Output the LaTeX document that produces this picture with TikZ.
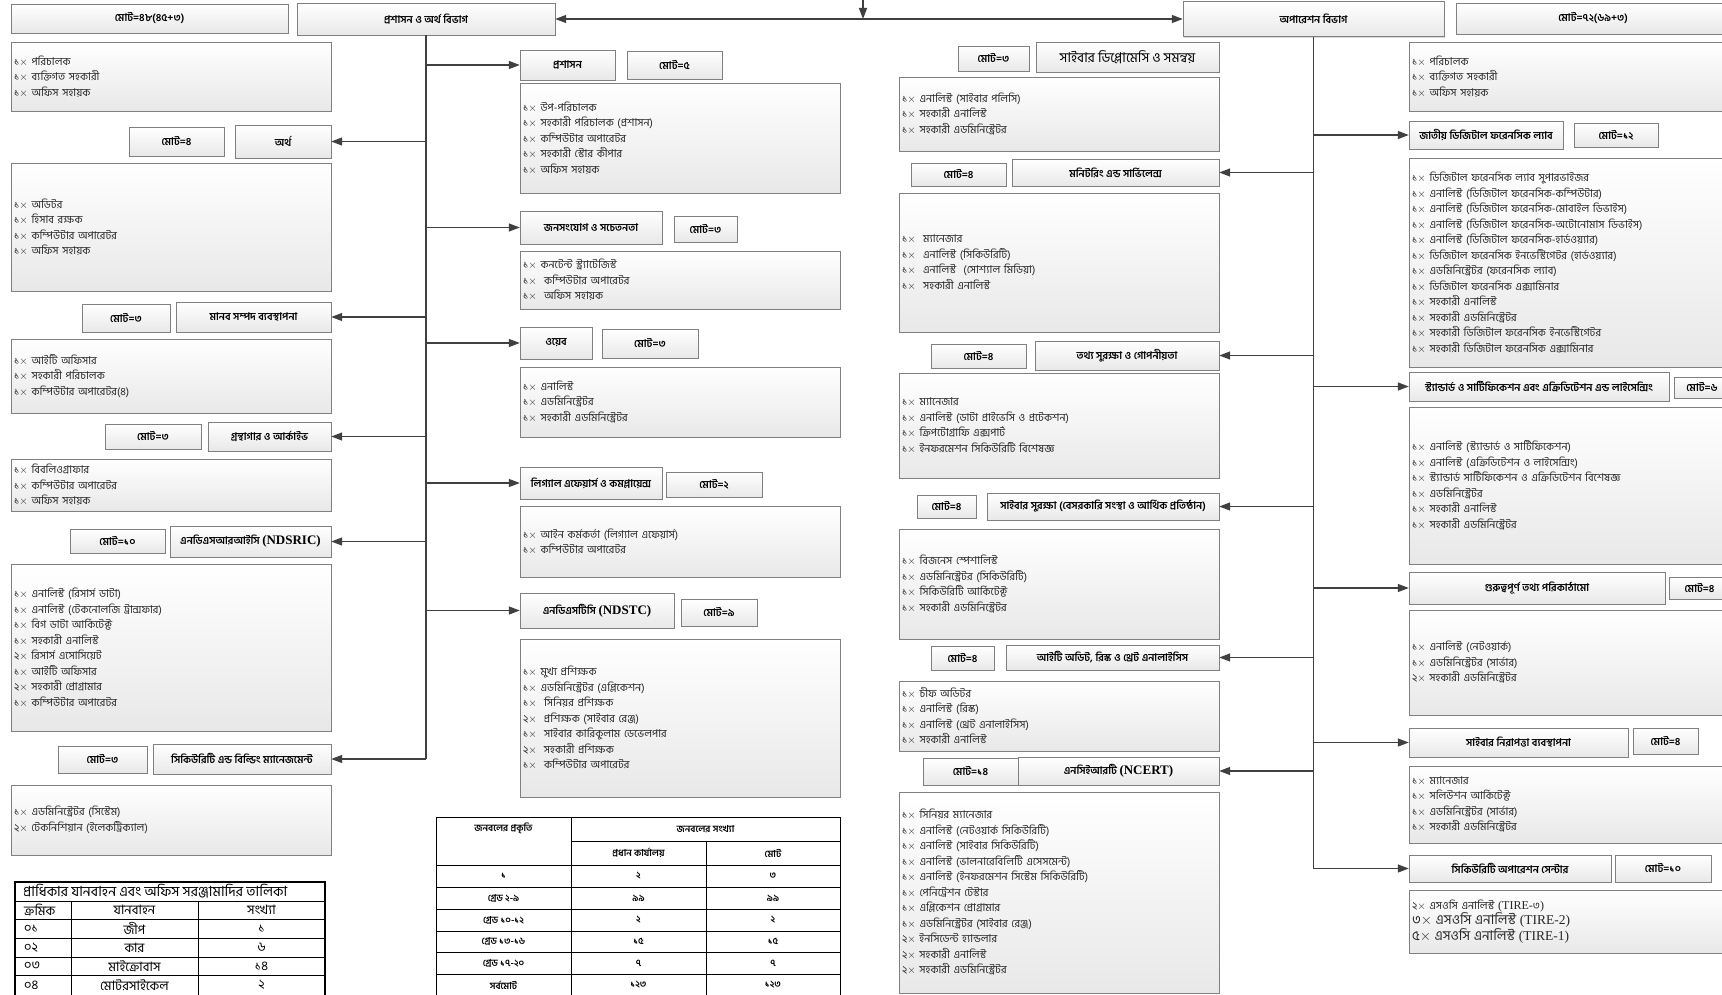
\documentclass[tikz,border=0pt]{standalone}
\usepackage{fontspec}
\setmainfont{Hind Siliguri}[Script=Bengali]
\newfontfamily\lat{Liberation Serif}
\usetikzlibrary{arrows.meta,shadows}

\newcommand{\tms}{$\times$ }

\tikzset{
  unitbox/.style={draw=black!50, top color=white, bottom color=black!9,
    drop shadow={opacity=0.3, shadow xshift=1.2pt, shadow yshift=-1.2pt},
    font=\fontsize{10.5}{12}\selectfont\bfseries, inner sep=1pt},
  staffbox/.style={unitbox, font=\fontsize{10.8}{15.5}\selectfont, text=black!85,
    align=left, text width=314pt, inner xsep=3pt, inner ysep=1pt},
  arr/.style={draw=black!75, line width=1.3pt, -{Triangle[length=11pt,width=8pt]}},
  trunk/.style={draw=black!75, line width=1.3pt},
  tbl/.style={line width=0.9pt},
  cell/.style={inner sep=0pt, font=\fontsize{9.5}{11}\selectfont\bfseries},
  vcell/.style={inner sep=0pt, font=\fontsize{13}{14}\selectfont},
}

\begin{document}
\begin{tikzpicture}[x=1pt,y=-1pt]
  \useasboundingbox (0,0) rectangle (1722,995);

  % heads
  \node[unitbox, minimum width=277pt, minimum height=29pt] (admtot) at (149.5,18.5) {মোট=৪৮(৪৫+৩)};
  \node[unitbox, minimum width=258pt, minimum height=32pt] (admin) at (426,19) {প্রশাসন ও অর্থ বিভাগ};
  \node[unitbox, minimum width=261pt, minimum height=35pt] (ops) at (1313.5,19) {অপারেশন বিভাগ};
  \node[unitbox, minimum width=274pt, minimum height=31pt] (opstot) at (1593,18.5) {মোট=৭২(৬৯+৩)};
  \coordinate (top) at (863,0);
  \coordinate (hub) at (top |- admin.east);

  % left column
  \node[staffbox, minimum height=69pt] (dirlist) at (171,76.5) {১\tms পরিচালক\\১\tms ব্যক্তিগত সহকারী\\১\tms অফিস সহায়ক};
  \node[unitbox, minimum width=96pt, minimum height=33pt] (fin) at (283,141.5) {অর্থ};
  \node[unitbox, minimum width=95pt, minimum height=29pt] (fintot) at (176.5,141.5) {মোট=৪};
  \node[staffbox, minimum height=128pt] (finlist) at (171,227) {১\tms অডিটর\\১\tms হিসাব রক্ষক\\১\tms কম্পিউটার অপারেটর\\১\tms অফিস সহায়ক};
  \node[unitbox, minimum width=155pt, minimum height=30pt] (hr) at (253.5,317) {মানব সম্পদ ব্যবস্থাপনা};
  \node[unitbox, minimum width=88pt, minimum height=28pt] (hrtot) at (126,318) {মোট=৩};
  \node[staffbox, minimum height=74pt] (hrlist) at (171,376) {১\tms আইটি অফিসার\\১\tms সহকারী পরিচালক\\১\tms কম্পিউটার অপারেটর(৪)};
  \node[unitbox, minimum width=123pt, minimum height=29pt] (lib) at (269.5,436.5) {গ্রন্থাগার ও আর্কাইভ};
  \node[unitbox, minimum width=96pt, minimum height=25pt] (libtot) at (153,436.5) {মোট=৩};
  \node[staffbox, minimum height=52pt] (liblist) at (171,485) {১\tms বিবলিওগ্রাফার\\১\tms কম্পিউটার অপারেটর\\১\tms অফিস সহায়ক};
  \node[unitbox, minimum width=161pt, minimum height=31pt] (ndsric) at (250.5,541.5) {এনডিএসআরআইসি {\lat\fontsize{13}{14}\selectfont (NDSRIC)}};
  \node[unitbox, minimum width=95pt, minimum height=24pt] (ndsrictot) at (117.5,541) {মোট=১০};
  \node[staffbox, minimum height=167pt] (ndsriclist) at (171,647.5) {১\tms এনালিস্ট (রিসার্স ডাটা)\\১\tms এনালিস্ট (টেকনোলজি ট্রান্সফার)\\১\tms বিগ ডাটা আর্কিটেক্ট\\১\tms সহকারী এনালিস্ট\\২\tms রিসার্স এসোসিয়েট\\১\tms আইটি অফিসার\\২\tms সহকারী প্রোগ্রামার\\১\tms কম্পিউটার অপারেটর};
  \node[unitbox, minimum width=178pt, minimum height=30pt] (sec) at (242,759) {সিকিউরিটি এন্ড বিল্ডিং ম্যানেজমেন্ট};
  \node[unitbox, minimum width=89pt, minimum height=27pt] (sectot) at (102.5,759.5) {মোট=৩};
  \node[staffbox, minimum height=70pt] (seclist) at (171,820) {১\tms এডমিনিস্ট্রেটর (সিস্টেম)\\২\tms টেকনিশিয়ান (ইলেকট্রিক্যাল)};

  % second column
  \node[unitbox, minimum width=95pt, minimum height=30pt] (prosh) at (567.5,65) {প্রশাসন};
  \node[unitbox, minimum width=95pt, minimum height=28pt] (proshtot) at (674.5,65) {মোট=৫};
  \node[staffbox, minimum height=110pt] (proshlist) at (680,138) {১\tms উপ-পরিচালক\\১\tms সহকারী পরিচালক (প্রশাসন)\\১\tms কম্পিউটার অপারেটর\\১\tms সহকারী স্টোর কীপার\\১\tms অফিস সহায়ক};
  \node[unitbox, minimum width=142pt, minimum height=33pt] (pr) at (591,227.5) {জনসংযোগ ও সচেতনতা};
  \node[unitbox, minimum width=63pt, minimum height=26pt] (prtot) at (705.5,229) {মোট=৩};
  \node[staffbox, minimum height=58pt] (prlist) at (680,280) {১\tms কনটেন্ট স্ট্র্যাটেজিস্ট\\১\tms\ কম্পিউটার অপারেটর\\১\tms\ অফিস সহায়ক};
  \node[unitbox, minimum width=72pt, minimum height=32pt] (web) at (556,343) {ওয়েব};
  \node[unitbox, minimum width=96pt, minimum height=29pt] (webtot) at (650,343.5) {মোট=৩};
  \node[staffbox, minimum height=70pt] (weblist) at (680,402) {১\tms এনালিস্ট\\১\tms এডমিনিস্ট্রেটর\\১\tms সহকারী এডমিনিস্ট্রেটর};
  \node[unitbox, minimum width=142pt, minimum height=32pt] (legal) at (591,483) {লিগ্যাল এফেয়ার্স ও কমপ্লায়েন্স};
  \node[unitbox, minimum width=96pt, minimum height=25pt] (legaltot) at (714,484.5) {মোট=২};
  \node[staffbox, minimum height=71pt] (legallist) at (680,541.5) {১\tms আইন কর্মকর্তা (লিগ্যাল এফেয়ার্স)\\১\tms কম্পিউটার অপারেটর};
  \node[unitbox, minimum width=154pt, minimum height=35pt] (ndstc) at (597,610.5) {এনডিএসটিসি {\lat\fontsize{13}{14}\selectfont (NDSTC)}};
  \node[unitbox, minimum width=76pt, minimum height=27pt] (ndstctot) at (719,612.5) {মোট=৯};
  \node[staffbox, minimum height=158pt] (ndstclist) at (680,718) {১\tms মুখ্য প্রশিক্ষক\\১\tms এডমিনিস্ট্রেটর (এপ্লিকেশন)\\১\tms\ সিনিয়র প্রশিক্ষক\\২\tms\ প্রশিক্ষক (সাইবার রেঞ্জ)\\১\tms\ সাইবার কারিকুলাম ডেভেলপার\\২\tms\ সহকারী প্রশিক্ষক\\১\tms\ কম্পিউটার অপারেটর};

  % third column
  \node[unitbox, font=\fontsize{13.5}{15}\selectfont, minimum width=183pt, minimum height=30pt] (dip) at (1127.5,57) {সাইবার ডিপ্লোমেসি ও সমন্বয়};
  \node[unitbox, minimum width=71pt, minimum height=25pt] (diptot) at (993.5,58.5) {মোট=৩};
  \node[staffbox, minimum height=74pt] (diplist) at (1059,114) {১\tms এনালিস্ট (সাইবার পলিসি)\\১\tms সহকারী এনালিস্ট\\১\tms সহকারী এডমিনিস্ট্রেটর};
  \node[unitbox, minimum width=207pt, minimum height=27pt] (mon) at (1115.5,172.5) {মনিটরিং এন্ড সার্ভিলেন্স};
  \node[unitbox, minimum width=95pt, minimum height=23pt] (montot) at (958.5,174.5) {মোট=৪};
  \node[staffbox, minimum height=139pt] (monlist) at (1059,262.5) {১\tms\ ম্যানেজার\\১\tms\ এনালিস্ট (সিকিউরিটি)\\১\tms\ এনালিস্ট\ \ (সোশ্যাল মিডিয়া)\\১\tms\ সহকারী এনালিস্ট};
  \node[unitbox, minimum width=184pt, minimum height=29pt] (priv) at (1127,355.5) {তথ্য সুরক্ষা ও গোপনীয়তা};
  \node[unitbox, minimum width=95pt, minimum height=24pt] (privtot) at (978.5,356) {মোট=৪};
  \node[staffbox, minimum height=105pt] (privlist) at (1059,425.5) {১\tms ম্যানেজার\\১\tms এনালিস্ট (ডাটা প্রাইভেসি ও প্রটেকশন)\\১\tms ক্রিপটোগ্রাফি এক্সপার্ট\\১\tms ইনফরমেশন সিকিউরিটি বিশেষজ্ঞ};
  \node[unitbox, minimum width=232pt, minimum height=27pt] (csec) at (1103,506.5) {সাইবার সুরক্ষা (বেসরকারি সংস্থা ও আর্থিক প্রতিষ্ঠান)};
  \node[unitbox, minimum width=59pt, minimum height=23pt] (csectot) at (946.5,506.5) {মোট=৪};
  \node[staffbox, minimum height=110pt] (cseclist) at (1059,584) {১\tms বিজনেস স্পেশালিস্ট\\১\tms এডমিনিস্ট্রেটর (সিকিউরিটি)\\১\tms সিকিউরিটি আর্কিটেক্ট\\১\tms সহকারী এডমিনিস্ট্রেটর};
  \node[unitbox, minimum width=213pt, minimum height=25pt] (audit) at (1112.5,657.5) {আইটি অডিট, রিস্ক ও থ্রেট এনালাইসিস};
  \node[unitbox, minimum width=63pt, minimum height=24pt] (audittot) at (962.5,658) {মোট=৪};
  \node[staffbox, minimum height=70pt] (auditlist) at (1059,716) {১\tms চীফ অডিটর\\১\tms এনালিস্ট (রিস্ক)\\১\tms এনালিস্ট (থ্রেট এনালাইসিস)\\১\tms সহকারী এনালিস্ট};
  \node[unitbox, minimum width=201pt, minimum height=28pt] (ncert) at (1118.5,771) {এনসিইআরটি {\lat\fontsize{13}{14}\selectfont (NCERT)}};
  \node[unitbox, minimum width=95pt, minimum height=27pt] (ncerttot) at (970.5,771.5) {মোট=১৪};
  \node[staffbox, minimum height=201pt] (ncertlist) at (1059,892.5) {১\tms সিনিয়র ম্যানেজার\\১\tms এনালিস্ট (নেটওয়ার্ক সিকিউরিটি)\\১\tms এনালিস্ট (সাইবার সিকিউরিটি)\\১\tms এনালিস্ট (ভালনারেবিলিটি এসেসমেন্ট)\\১\tms এনালিস্ট (ইনফরমেশন সিস্টেম সিকিউরিটি)\\১\tms পেনিট্রেশন টেস্টার\\১\tms এপ্লিকেশন প্রোগ্রামার\\১\tms এডমিনিস্ট্রেটর (সাইবার রেঞ্জ)\\২\tms ইনসিডেন্ট হ্যান্ডলার\\২\tms সহকারী এনালিস্ট\\২\tms সহকারী এডমিনিস্ট্রেটর};

  % right column
  \node[staffbox, minimum height=69pt] (opsdirlist) at (1569,76.5) {১\tms পরিচালক\\১\tms ব্যক্তিগত সহকারী\\১\tms অফিস সহায়ক};
  \node[unitbox, minimum width=154pt, minimum height=28pt] (lab) at (1486,135) {জাতীয় ডিজিটাল ফরেনসিক ল্যাব};
  \node[unitbox, minimum width=84pt, minimum height=24pt] (labtot) at (1616,135) {মোট=১২};
  \node[staffbox, minimum height=209pt] (lablist) at (1569,262.5) {১\tms ডিজিটাল ফরেনসিক ল্যাব সুপারভাইজর\\১\tms এনালিস্ট (ডিজিটাল ফরেনসিক-কম্পিউটার)\\১\tms এনালিস্ট (ডিজিটাল ফরেনসিক-মোবাইল ডিভাইস)\\১\tms এনালিস্ট (ডিজিটাল ফরেনসিক-অটোনোমাস ডিভাইস)\\১\tms এনালিস্ট (ডিজিটাল ফরেনসিক-হার্ডওয়্যার)\\১\tms ডিজিটাল ফরেনসিক ইনভেস্টিগেটর (হার্ডওয়্যার)\\১\tms এডমিনিস্ট্রেটর (ফরেনসিক ল্যাব)\\১\tms ডিজিটাল ফরেনসিক এক্সামিনার\\১\tms সহকারী এনালিস্ট\\১\tms সহকারী এডমিনিস্ট্রেটর\\১\tms সহকারী ডিজিটাল ফরেনসিক ইনভেস্টিগেটর\\১\tms সহকারী ডিজিটাল ফরেনসিক এক্সামিনার};
  \node[unitbox, minimum width=260pt, minimum height=29pt] (std) at (1539,386.5) {স্ট্যান্ডার্ড ও সার্টিফিকেশন এবং এক্রিডিটেশন এন্ড লাইসেন্সিং};
  \node[unitbox, minimum width=56pt, minimum height=21pt] (stdtot) at (1702,387.5) {মোট=৬};
  \node[staffbox, minimum height=157pt] (stdlist) at (1569,485.5) {১\tms এনালিস্ট (স্ট্যান্ডার্ড ও সার্টিফিকেশন)\\১\tms এনালিস্ট (এক্রিডিটেশন ও লাইসেন্সিং)\\১\tms স্ট্যান্ডার্ড সার্টিফিকেশন ও এক্রিডিটেশন বিশেষজ্ঞ\\১\tms এডমিনিস্ট্রেটর\\১\tms সহকারী এনালিস্ট\\১\tms সহকারী এডমিনিস্ট্রেটর};
  \node[unitbox, minimum width=256pt, minimum height=32pt] (cii) at (1537,588) {গুরুত্বপূর্ণ তথ্য পরিকাঠামো};
  \node[unitbox, minimum width=61pt, minimum height=22pt] (ciitot) at (1699.5,588) {মোট=৪};
  \node[staffbox, minimum height=105pt] (ciilist) at (1569,662.5) {১\tms এনালিস্ট (নেটওয়ার্ক)\\১\tms এডমিনিস্ট্রেটর (সার্ভার)\\২\tms সহকারী এডমিনিস্ট্রেটর};
  \node[unitbox, minimum width=219pt, minimum height=29pt] (mgmt) at (1518.5,742.5) {সাইবার নিরাপত্তা ব্যবস্থাপনা};
  \node[unitbox, minimum width=65pt, minimum height=26pt] (mgmttot) at (1665.5,741) {মোট=৪};
  \node[staffbox, minimum height=77pt] (mgmtlist) at (1569,804.5) {১\tms ম্যানেজার\\১\tms সলিউশন আর্কিটেক্ট\\১\tms এডমিনিস্ট্রেটর (সার্ভার)\\১\tms সহকারী এডমিনিস্ট্রেটর};
  \node[unitbox, minimum width=202pt, minimum height=27pt] (soc) at (1510,868.5) {সিকিউরিটি অপারেশন সেন্টার};
  \node[unitbox, minimum width=96pt, minimum height=27pt] (soctot) at (1663,868.5) {মোট=১০};
  \node[staffbox, minimum height=63pt] (soclist) at (1569,921.5) {২\tms এসওসি এনালিস্ট {\lat\fontsize{12}{13}\selectfont (TIRE-}৩{\lat\fontsize{12}{13}\selectfont )}\\{\fontsize{13.5}{14}\selectfont ৩\tms এসওসি এনালিস্ট {\lat (TIRE-2)}}\\{\fontsize{13.5}{14}\selectfont ৫\tms এসওসি এনালিস্ট {\lat (TIRE-1)}}};

  % connectors
  \draw[arr] (top) -- (hub);
  \draw[arr] (hub) -- (admin.east);
  \draw[arr] (hub) -- (ops.west);
  \draw[trunk] (admin.south) -- (admin.south |- sec.east);
  \draw[trunk] (ops.south) -- (ops.south |- soc.west);
  \draw[arr] (admin.south |- fin.east) -- (fin.east);
  \draw[arr] (admin.south |- hr.east) -- (hr.east);
  \draw[arr] (admin.south |- lib.east) -- (lib.east);
  \draw[arr] (admin.south |- ndsric.east) -- (ndsric.east);
  \draw[arr] (admin.south |- sec.east) -- (sec.east);
  \draw[arr] (admin.south |- prosh.west) -- (prosh.west);
  \draw[arr] (admin.south |- pr.west) -- (pr.west);
  \draw[arr] (admin.south |- web.west) -- (web.west);
  \draw[arr] (admin.south |- legal.west) -- (legal.west);
  \draw[arr] (admin.south |- ndstc.west) -- (ndstc.west);
  \draw[arr] (ops.south |- mon.east) -- (mon.east);
  \draw[arr] (ops.south |- priv.east) -- (priv.east);
  \draw[arr] (ops.south |- csec.east) -- (csec.east);
  \draw[arr] (ops.south |- audit.east) -- (audit.east);
  \draw[arr] (ops.south |- ncert.east) -- (ncert.east);
  \draw[arr] (ops.south |- lab.west) -- (lab.west);
  \draw[arr] (ops.south |- std.west) -- (std.west);
  \draw[arr] (ops.south |- cii.west) -- (cii.west);
  \draw[arr] (ops.south |- mgmt.west) -- (mgmt.west);
  \draw[arr] (ops.south |- soc.west) -- (soc.west);

  % manpower table
  \draw[tbl] (436,817) rectangle (840,996);
  \draw[tbl] (571,817) -- (571,996);
  \draw[tbl] (706,841) -- (706,996);
  \draw[tbl] (571,841) -- (840,841);
  \draw[tbl] (436,865) -- (840,865);
  \draw[tbl] (436,887) -- (840,887);
  \draw[tbl] (436,909) -- (840,909);
  \draw[tbl] (436,931) -- (840,931);
  \draw[tbl] (436,952) -- (840,952);
  \draw[tbl] (436,974) -- (840,974);
  \node[cell] (mkind) at (503.5,828) {জনবলের প্রকৃতি};
  \node[cell] (mcount) at (705.5,829) {জনবলের সংখ্যা};
  \node[cell] (mhq) at (638.5,853) {প্রধান কার্যালয়};
  \node[cell] (mtot) at (773,853) {মোট};
  \node[cell] (ma1) at (503.5,876) {১};
  \node[cell] (ma2) at (638.5,876) {২};
  \node[cell] (ma3) at (773,876) {৩};
  \node[cell] (mb1) at (503.5,898) {গ্রেড ২-৯};
  \node[cell] (mb2) at (638.5,898) {৯৯};
  \node[cell] (mb3) at (773,898) {৯৯};
  \node[cell] (mc1) at (503.5,920) {গ্রেড ১০-১২};
  \node[cell] (mc2) at (638.5,920) {২};
  \node[cell] (mc3) at (773,920) {২};
  \node[cell] (md1) at (503.5,941.5) {গ্রেড ১৩-১৬};
  \node[cell] (md2) at (638.5,941.5) {১৫};
  \node[cell] (md3) at (773,941.5) {১৫};
  \node[cell] (me1) at (503.5,963) {গ্রেড ১৭-২০};
  \node[cell] (me2) at (638.5,963) {৭};
  \node[cell] (me3) at (773,963) {৭};
  \node[cell] (mf1) at (503.5,985) {সর্বমোট};
  \node[cell] (mf2) at (638.5,985) {১২৩};
  \node[cell] (mf3) at (773,985) {১২৩};

  % vehicle table
  \draw[tbl, line width=1.1pt] (15,882) rectangle (325,997);
  \draw[tbl] (15,901) -- (325,901);
  \draw[tbl] (15,919) -- (325,919);
  \draw[tbl] (15,938) -- (325,938);
  \draw[tbl] (15,957) -- (325,957);
  \draw[tbl] (15,975) -- (325,975);
  \draw[tbl] (71,901) -- (71,997);
  \draw[tbl] (198,901) -- (198,997);
  \node[vcell, anchor=west, font=\fontsize{14}{15}\selectfont] (vtitle) at (23,891.5) {প্রাধিকার যানবাহন এবং অফিস সরঞ্জামাদির তালিকা};
  \node[vcell, anchor=west] (vno) at (24,910) {ক্রমিক};
  \node[vcell] (vtype) at (134.5,910) {যানবাহন};
  \node[vcell] (vnum) at (261.5,910) {সংখ্যা};
  \node[vcell, anchor=west] (v1a) at (24,928.5) {০১};
  \node[vcell] (v1b) at (134.5,928.5) {জীপ};
  \node[vcell] (v1c) at (261.5,928.5) {১};
  \node[vcell, anchor=west] (v2a) at (24,947.5) {০২};
  \node[vcell] (v2b) at (134.5,947.5) {কার};
  \node[vcell] (v2c) at (261.5,947.5) {৬};
  \node[vcell, anchor=west] (v3a) at (24,966) {০৩};
  \node[vcell] (v3b) at (134.5,966) {মাইক্রোবাস};
  \node[vcell] (v3c) at (261.5,966) {১৪};
  \node[vcell, anchor=west] (v4a) at (24,985) {০৪};
  \node[vcell] (v4b) at (134.5,985) {মোটরসাইকেল};
  \node[vcell] (v4c) at (261.5,985) {২};
\end{tikzpicture}
\end{document}
